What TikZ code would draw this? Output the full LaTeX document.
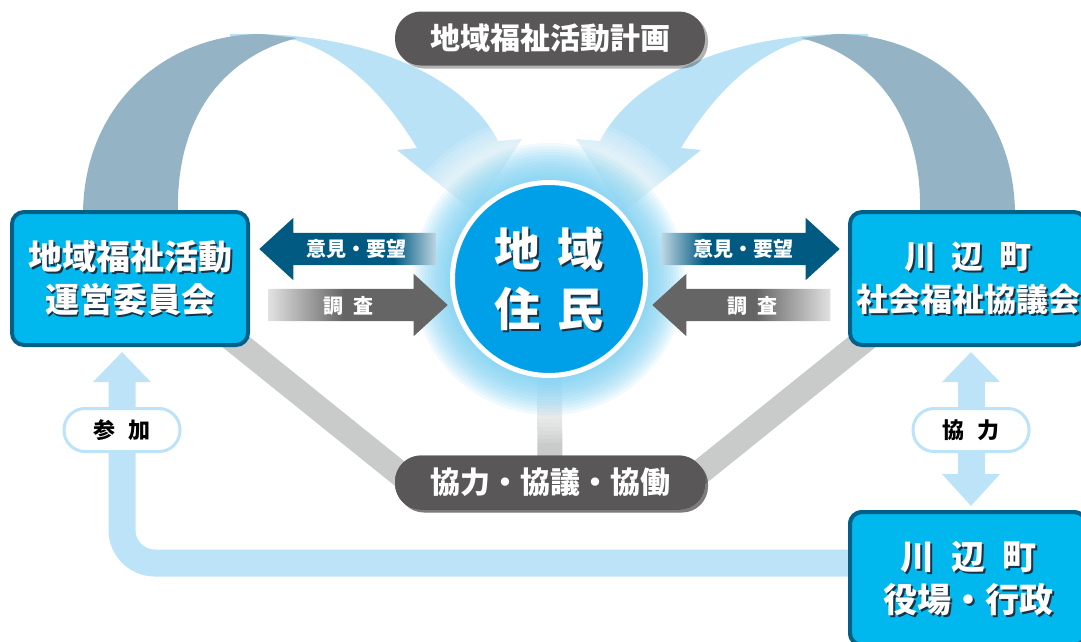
\documentclass[tikz,border=0pt]{standalone}
\usepackage{fontspec}
\setmainfont{Noto Sans CJK JP}
\usetikzlibrary{shapes.arrows,arrows.meta,shadows,calc,backgrounds}

\definecolor{boxcyan}{RGB}{0,184,238}
\definecolor{boxedge}{RGB}{0,96,136}
\definecolor{ctrblue}{RGB}{0,160,233}
\definecolor{glowblue}{RGB}{110,205,243}
\definecolor{pillgray}{RGB}{89,87,87}
\definecolor{linkgray}{RGB}{201,202,202}
\definecolor{ribbondark}{RGB}{148,180,197}
\definecolor{ribbonlight}{RGB}{185,226,247}
\definecolor{partblue}{RGB}{189,227,248}
\definecolor{ikenblue}{RGB}{0,90,130}
\definecolor{ikenpale}{RGB}{190,214,226}
\definecolor{chosagray}{RGB}{102,101,102}
\definecolor{chosapale}{RGB}{225,225,225}
\definecolor{txtshadow}{RGB}{25,50,70}

% gradients of the side arrows
\pgfdeclarehorizontalshading{ikenfadeL}{100bp}{color(0bp)=(ikenblue); color(63bp)=(ikenblue); color(75bp)=(ikenpale); color(100bp)=(ikenpale)}
\pgfdeclarehorizontalshading{ikenfadeR}{100bp}{color(0bp)=(ikenpale); color(25bp)=(ikenpale); color(37bp)=(ikenblue); color(100bp)=(ikenblue)}
\pgfdeclarehorizontalshading{chosafadeL}{100bp}{color(0bp)=(chosapale); color(25bp)=(chosapale); color(46bp)=(chosagray); color(100bp)=(chosagray)}
\pgfdeclarehorizontalshading{chosafadeR}{100bp}{color(0bp)=(chosagray); color(54bp)=(chosagray); color(75bp)=(chosapale); color(100bp)=(chosapale)}

\newcommand{\jsp}[1][.5em]{\hspace{#1}}
\newcommand{\shtext}[3]{%
  \node[#1, text=txtshadow] at ([shift={(2pt,-2pt)}]#2) {#3};
  \node[#1] at (#2) {#3};}

\tikzset{
  orgbox/.style={rectangle, rounded corners=12pt, draw=boxedge, line width=4pt, fill=boxcyan, minimum width=236pt, minimum height=133pt},
  boxtxt/.style={text=white, align=center, font=\bfseries\fontsize{32}{43}\selectfont},
  ctrtxt/.style={text=white, align=center, font=\bfseries\fontsize{46}{60}\selectfont},
  pill/.style={rectangle, rounded corners=26pt, fill=pillgray, minimum width=310pt, minimum height=54pt, text=white, font=\bfseries\fontsize{30}{30}\selectfont, drop shadow={shadow xshift=3pt, shadow yshift=-3pt, opacity=0.3, fill=black}},
  tagpill/.style={rectangle, rounded corners=21pt, draw=partblue, line width=3pt, fill=white, minimum width=116pt, minimum height=43pt, text=black, font=\bfseries\fontsize{22}{22}\selectfont},
  blockarrow/.style={single arrow, shade, minimum height=#1, minimum width=62pt, single arrow head extend=15pt, single arrow tip angle=85, inner sep=0pt, inner ysep=16pt},
  arrowtxt/.style={text=white, font=\bfseries\fontsize{20}{20}\selectfont},
  link/.style={draw=linkgray, line width=25pt},
  partline/.style={draw=partblue, line width=27pt},
}

\begin{document}
\begin{tikzpicture}[x=1pt, y=-1pt]
  \useasboundingbox (0,0) rectangle (1081,641);
  \clip (0,0) rectangle (1081,641);

  % ribbons of the plan
  \fill[ribbonlight] (230,34) .. controls (380,30) and (470,85) .. (498,141) -- (522,139) -- (474,212) -- (397,150) -- (417,148) .. controls (385,95) and (345,55) .. (295,40) -- (230,40) -- cycle;
  \fill[ribbondark] (83,215) .. controls (83,105) and (165,34) .. (262,34) -- (297,38) .. controls (230,55) and (175,110) .. (178,215) -- cycle;
  \fill[ribbonlight] (868,34) .. controls (718,30) and (628,85) .. (600,141) -- (576,139) -- (624,212) -- (701,150) -- (681,148) .. controls (713,95) and (753,55) .. (803,40) -- (868,40) -- cycle;
  \fill[ribbondark] (1015,215) .. controls (1015,105) and (933,34) .. (836,34) -- (801,38) .. controls (868,55) and (923,110) .. (920,215) -- cycle;

  \node[orgbox] (kanri) at (130,278.5) {};
  \node[orgbox] (shakyo) at (968,278.5) {};
  \node[orgbox] (yakuba) at (968,578.5) {};
  \node[pill] (kyogi) at (550,482.5) {};
  \coordinate (jc) at (549,279);

  % links to the council
  \begin{pgfonlayer}{background}
    \draw[link] ([shift={(70pt,-34.5pt)}]kanri.center) -- ([shift={(-120pt,-15.5pt)}]kyogi.center);
    \draw[link] ([shift={(-70pt,-34.5pt)}]shakyo.center) -- ([shift={(118pt,-15.5pt)}]kyogi.center);
    \draw[link] (jc) -- (kyogi.center);
  \end{pgfonlayer}

  % glow
  \foreach \r in {104,108,...,164} \fill[white, opacity=0.13] (jc) circle (\r pt);
  \foreach \r in {100,103,...,136} \fill[glowblue, opacity=0.1] (jc) circle (\r pt);

  \node[blockarrow=177pt, shape border rotate=180, shading=ikenfadeL, anchor=tip] (ikenL) at (259,249) {};
  \node[blockarrow=179pt, shading=chosafadeL, anchor=tip] (chosaL) at (448,305) {};
  \node[blockarrow=178pt, shading=ikenfadeR, anchor=tip] (ikenR) at (840,249) {};
  \node[blockarrow=178pt, shape border rotate=180, shading=chosafadeR, anchor=tip] (chosaR) at (652,305) {};
  \node[arrowtxt] at (356,249) {意見・要望};
  \node[arrowtxt] at (348,306) {調\jsp 査};
  \node[arrowtxt] at (743,249) {意見・要望};
  \node[arrowtxt] at (752,306) {調\jsp 査};

  \node[circle, fill=ctrblue, draw=white, line width=5pt, minimum size=193pt, inner sep=0pt] (jumin) at (jc) {};
  \shtext{ctrtxt}{jumin.center}{地\jsp[.35em]域\\住\jsp[.35em]民}

  % participation and cooperation
  \draw[partline, -{Triangle[length=30pt,width=56pt]}, rounded corners=33pt] ([yshift=15.5pt]yakuba.west) -| ([xshift=-8pt,yshift=-5pt]kanri.south);
  \draw[partline, {Triangle[length=30pt,width=56pt]}-{Triangle[length=32pt,width=56pt]}] ([xshift=3pt,yshift=-5pt]shakyo.south) -- ([xshift=3pt,yshift=4pt]yakuba.north);

  \node[orgbox] at (yakuba) {};
  \shtext{boxtxt, font=\bfseries\fontsize{34}{43}\selectfont}{kanri.center}{地域福祉活動\\運営委員会}
  \shtext{boxtxt}{shakyo.center}{川\jsp 辺\jsp 町\\社会福祉協議会}
  \shtext{boxtxt, font=\bfseries\fontsize{34}{43}\selectfont}{yakuba.center}{川\jsp 辺\jsp 町\\役場・行政}

  \node[pill] (keikaku) at (550,38.5) {地域福祉活動計画};
  \node[pill] at (kyogi) {協力・協議・協働};
  \node[tagpill] (sanka) at (122,430) {参\jsp[.6em]加};
  \node[tagpill] (kyoryoku) at (971,430) {協\jsp[.6em]力};
\end{tikzpicture}
\end{document}
